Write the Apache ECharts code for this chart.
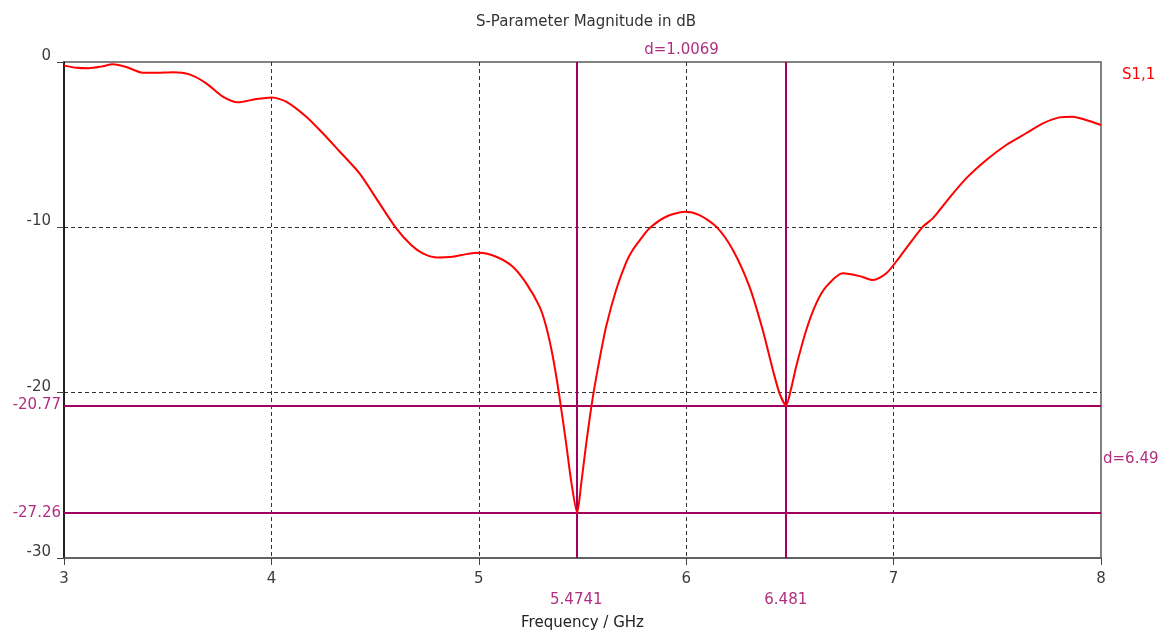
<!DOCTYPE html>
<html>
<head>
<meta charset="utf-8">
<script src="https://cdn.jsdelivr.net/npm/echarts@6/dist/echarts.min.js"></script>
<style>
  html, body { margin: 0; padding: 0; background: #fff; }
  #chart { width: 1172px; height: 633px; }
</style>
</head>
<body>
<div id="chart"></div>
<script>
// ---- data ----
const titleText = 'S-Parameter Magnitude in dB';
const xAxisName = 'Frequency / GHz';
const seriesName = 'S1,1';
const freqGHz = [3.0, 3.06, 3.12, 3.18, 3.235, 3.30, 3.38, 3.45, 3.525, 3.605, 3.686, 3.766, 3.838, 3.927, 4.002, 4.071, 4.168, 4.248, 4.328, 4.425, 4.521, 4.602, 4.674, 4.73, 4.795, 4.875, 4.939, 5.003, 5.084, 5.164, 5.229, 5.293, 5.325, 5.357, 5.389, 5.421, 5.446, 5.4741, 5.494, 5.518, 5.55, 5.582, 5.614, 5.662, 5.711, 5.742, 5.775, 5.823, 5.903, 5.992, 6.064, 6.145, 6.225, 6.305, 6.369, 6.418, 6.45, 6.481, 6.505, 6.53, 6.579, 6.627, 6.675, 6.756, 6.836, 6.9, 6.965, 7.03, 7.141, 7.189, 7.27, 7.35, 7.447, 7.543, 7.639, 7.72, 7.8, 7.864, 7.928, 8.0];
const s11dB = [-0.22, -0.35, -0.38, -0.28, -0.14, -0.3, -0.65, -0.65, -0.62, -0.75, -1.29, -2.10, -2.44, -2.24, -2.14, -2.40, -3.31, -4.31, -5.4, -6.74, -8.55, -10.06, -11.07, -11.58, -11.82, -11.78, -11.62, -11.54, -11.78, -12.38, -13.39, -14.8, -16.01, -17.83, -20.25, -23.07, -25.4, -27.26, -25.49, -23.07, -20.25, -18.0, -16.0, -13.79, -12.1, -11.37, -10.8, -10.06, -9.36, -9.06, -9.26, -9.96, -11.37, -13.59, -16.21, -18.63, -20.04, -20.77, -19.8, -18.43, -16.21, -14.6, -13.59, -12.78, -12.95, -13.19, -12.78, -11.78, -9.96, -9.46, -8.2, -7.04, -5.93, -5.02, -4.31, -3.71, -3.35, -3.31, -3.51, -3.81];
const markerFreqs = [5.4741, 6.481];
const markerLevels = [-20.77, -27.26];
const xTicks = [3, 4, 5, 6, 7, 8];
const yTicks = [0, -10, -20, -30];

// ---- chart ----
const FONT = 'DejaVu Sans';
const PURPLE = '#a0005e';
const PURPLE_TEXT = '#b02f80';
const GREY = '#3c3c3c';

const chart = echarts.init(document.getElementById('chart'), null, { renderer: 'canvas' });
const points = freqGHz.map((f, i) => [f, s11dB[i]]);

const markData = [];
markerFreqs.forEach(f => markData.push({
  xAxis: f,
  label: { position: 'start', distance: 35, formatter: String(f) }
}));
markerLevels.forEach(v => markData.push({
  yAxis: v,
  label: { position: 'start', distance: 3, formatter: String(v) }
}));

const option = {
  animation: false,
  backgroundColor: '#ffffff',
  textStyle: { fontFamily: FONT },
  title: {
    text: titleText,
    left: 'center',
    top: 10,
    textStyle: { fontFamily: FONT, fontSize: 15, fontWeight: 'normal', color: '#333' }
  },
  legend: {
    data: [seriesName],
    icon: 'none',
    itemWidth: 0,
    itemGap: 0,
    left: 1112,
    top: 63,
    selectedMode: false,
    textStyle: { fontFamily: FONT, fontSize: 15, color: '#ff0000' }
  },
  grid: {
    left: 64,
    right: 71,
    top: 62,
    bottom: 75,
    outerBoundsMode: 'none',
    containLabel: false,
    show: true,
    borderColor: '#5a5a5a',
    borderWidth: 1.5,
    backgroundColor: 'transparent'
  },
  xAxis: {
    type: 'value',
    min: xTicks[0],
    max: xTicks[xTicks.length - 1],
    interval: 1,
    name: xAxisName,
    nameLocation: 'middle',
    nameGap: 58,
    nameTextStyle: { fontFamily: FONT, fontSize: 15, color: '#222' },
    axisLine: { show: true, onZero: false, lineStyle: { color: '#5a5a5a', width: 1.5 } },
    axisTick: { show: true, length: 7, lineStyle: { color: '#444' } },
    axisLabel: { margin: 14, fontFamily: FONT, fontSize: 15, color: GREY },
    splitLine: { show: true, showMinLine: false, showMaxLine: false, lineStyle: { color: '#333', type: [4, 3], width: 1 } }
  },
  yAxis: {
    type: 'value',
    min: yTicks[yTicks.length - 1],
    max: yTicks[0],
    interval: 10,
    axisLine: { show: true, onZero: false, lineStyle: { color: '#000', width: 1.5 } },
    axisTick: { show: true, length: 7, lineStyle: { color: '#444' } },
    axisLabel: { margin: 13, fontFamily: FONT, fontSize: 15, color: GREY, verticalAlign: 'bottom', lineHeight: 12 },
    splitLine: { show: true, showMinLine: false, showMaxLine: false, lineStyle: { color: '#333', type: [4, 3], width: 1 } }
  },
  series: [{
    name: seriesName,
    type: 'line',
    data: points,
    showSymbol: false,
    smooth: 0.25,
    color: '#ff0000',
    lineStyle: { color: '#ff0000', width: 2 },
    z: 3,
    markLine: {
      silent: true,
      symbol: ['none', 'none'],
      animation: false,
      lineStyle: { color: PURPLE, width: 2, type: 'solid' },
      label: { show: true, color: PURPLE_TEXT, fontFamily: FONT, fontSize: 15 },
      emphasis: { disabled: true },
      data: markData,
      z: 2
    }
  }]
};
chart.setOption(option);

// difference labels, positioned through the axes' scales
const midF = (markerFreqs[0] + markerFreqs[1]) / 2;
const midL = (markerLevels[0] + markerLevels[1]) / 2;
const dF = (markerFreqs[1] - markerFreqs[0]).toFixed(4);
const dL = Math.abs(markerLevels[0] - markerLevels[1]).toFixed(2);
const topPix = chart.convertToPixel({ gridIndex: 0 }, [midF, yTicks[0]]);
const rightPix = chart.convertToPixel({ gridIndex: 0 }, [xTicks[xTicks.length - 1], midL]);
chart.setOption({
  graphic: [
    {
      type: 'text', x: topPix[0], y: topPix[1] - 12,
      style: { text: 'd=' + dF, fill: PURPLE_TEXT, font: '15px "' + FONT + '"', align: 'center', verticalAlign: 'middle' }
    },
    {
      type: 'text', x: rightPix[0] + 2, y: rightPix[1],
      style: { text: 'd=' + dL, fill: PURPLE_TEXT, font: '15px "' + FONT + '"', align: 'left', verticalAlign: 'middle' }
    }
  ]
});
</script>
</body>
</html>
